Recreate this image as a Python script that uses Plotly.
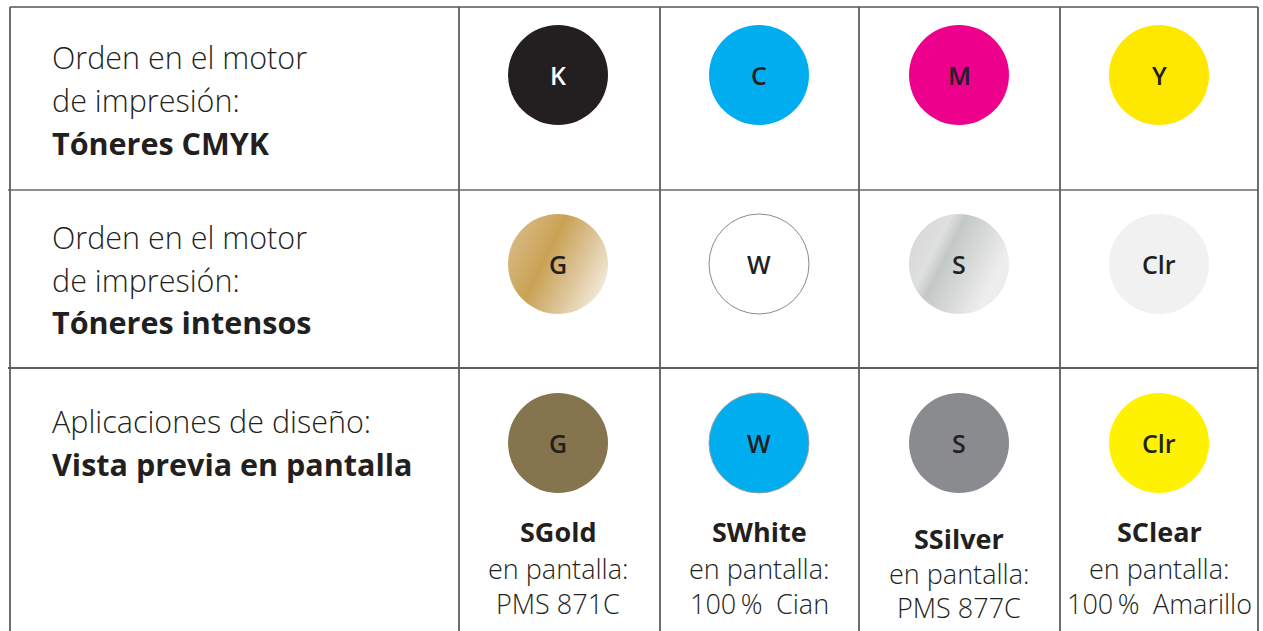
import base64
import plotly.graph_objects as go

W, H = 1263, 631

# ---- data ----
row_lines = [
    ["Orden en el motor", "de impresión:", "Tóneres CMYK"],
    ["Orden en el motor", "de impresión:", "Tóneres intensos"],
    ["Aplicaciones de diseño:", "Vista previa en pantalla"],
]
row_line_bold = [[False, False, True], [False, False, True], [False, True]]
row_line_y = [[57, 100, 143], [237, 280, 322], [421, 464]]

col_x = [558, 759, 959, 1159]
circle_y = [75, 264, 443]
circle_r = 50

letters = [["K", "C", "M", "Y"], ["G", "W", "S", "Clr"], ["G", "W", "S", "Clr"]]
fills = [
    ["#231f20", "#00aeef", "#ec008c", "#ffe800"],
    ["gold_grad", "#ffffff", "silver_grad", "#f1f1f2"],
    ["#84754e", "#00aeef", "#898b8e", "#fff200"],
]
outlines = [
    [None, None, None, None],
    [None, "#8a8a8a", None, None],
    [None, "#9aa0a6", None, None],
]
letter_colors = [["#ffffff", "#231f20", "#231f20", "#231f20"],
                 ["#231f20"] * 4, ["#231f20"] * 4]

notes = [
    ["SGold", "en pantalla:", "PMS 871C"],
    ["SWhite", "en pantalla:", "100\u2009%\u2002Cian"],
    ["SSilver", "en pantalla:", "PMS 877C"],
    ["SClear", "en pantalla:", "100\u2009%\u2002Amarillo"],
]
notes_bold = [True, False, False]
notes_y = [[531, 568, 603], [531, 568, 603], [538, 573, 607], [531, 568, 603]]

col_dividers = [459, 660, 859, 1060]
row_dividers = [190, 368]
row_divider_colors = ["#6a6a6a", "#2a2a2a"]
table_left, table_right, table_top = 10, 1258, 7

gradients = {
    "gold_grad": [(0, "#d8ba86"), (0.38, "#c9a254"), (0.62, "#d9bd8b"), (1, "#f4ede0")],
    "silver_grad": [(0, "#d8d8d8"), (0.25, "#dedfdf"), (0.36, "#c3c8c7"),
                    (0.6, "#d8dada"), (0.85, "#efeeee"), (1, "#ebebeb")],
}

TEXT = "#231f20"
FONT = "Open Sans"

fig = go.Figure()

shapes = []
images = []
annotations = []

# grid lines
shapes.append(dict(type="line", x0=table_left, x1=table_right, y0=table_top, y1=table_top,
                   line=dict(color="#555555", width=1.5)))
for yv, lc in zip(row_dividers, row_divider_colors):
    shapes.append(dict(type="line", x0=table_left - 2, x1=table_right, y0=yv, y1=yv,
                       line=dict(color=lc, width=1.5)))
for xv in [table_left] + col_dividers + [table_right]:
    shapes.append(dict(type="line", x0=xv, x1=xv, y0=table_top, y1=H,
                       line=dict(color="#5e5e5e", width=1.8)))


def grad_svg(stops):
    st = "".join(f'<stop offset="{o}" stop-color="{c}"/>' for o, c in stops)
    svg = ('<svg xmlns="http://www.w3.org/2000/svg" width="200" height="200" viewBox="0 0 200 200">'
           '<defs><linearGradient id="g" x1="0" y1="0.25" x2="1" y2="0.75">' + st +
           '</linearGradient></defs><circle cx="100" cy="100" r="100" fill="url(#g)"/></svg>')
    return "data:image/svg+xml;base64," + base64.b64encode(svg.encode()).decode()


for ri, cy in enumerate(circle_y):
    for ci, cx in enumerate(col_x):
        f = fills[ri][ci]
        if f in gradients:
            images.append(dict(source=grad_svg(gradients[f]), xref="x", yref="y",
                               x=cx, y=cy, sizex=2 * circle_r, sizey=2 * circle_r,
                               xanchor="center", yanchor="middle", sizing="stretch",
                               layer="below"))
        else:
            oc = outlines[ri][ci]
            shapes.append(dict(type="circle", x0=cx - circle_r, x1=cx + circle_r,
                               y0=cy - circle_r, y1=cy + circle_r, fillcolor=f,
                               line=dict(color=oc if oc else f, width=1 if oc else 0)))
        annotations.append(dict(x=cx, y=cy, xref="x", yref="y", text=letters[ri][ci],
                                showarrow=False, xanchor="center", yanchor="middle",
                                font=dict(family=FONT, size=25, weight=600,
                                          color=letter_colors[ri][ci])))

for lines, bolds, ys in zip(row_lines, row_line_bold, row_line_y):
    for t, b, yv in zip(lines, bolds, ys):
        annotations.append(dict(x=50, y=yv, xref="x", yref="y", text=t, showarrow=False,
                                xanchor="left", yanchor="middle",
                                font=dict(family=FONT, size=30.5,
                                          weight=700 if b else 300, color=TEXT)))

for ci, cx in enumerate(col_x):
    for t, b, yv in zip(notes[ci], notes_bold, notes_y[ci]):
        annotations.append(dict(x=cx, y=yv, xref="x", yref="y", text=t, showarrow=False,
                                xanchor="center", yanchor="middle",
                                font=dict(family=FONT, size=27, weight=700 if b else 300,
                                          color=TEXT)))

fig.update_layout(
    width=W, height=H, autosize=False,
    margin=dict(l=0, r=0, t=0, b=0),
    paper_bgcolor="white", plot_bgcolor="white",
    xaxis=dict(range=[0, W], visible=False, fixedrange=True),
    yaxis=dict(range=[H, 0], visible=False, fixedrange=True),
    shapes=shapes, images=images, annotations=annotations,
    showlegend=False,
)

fig.write_html("out.html", config={"displayModeBar": False},
               post_script="document.body.style.margin='0';document.body.style.overflow='hidden';")
